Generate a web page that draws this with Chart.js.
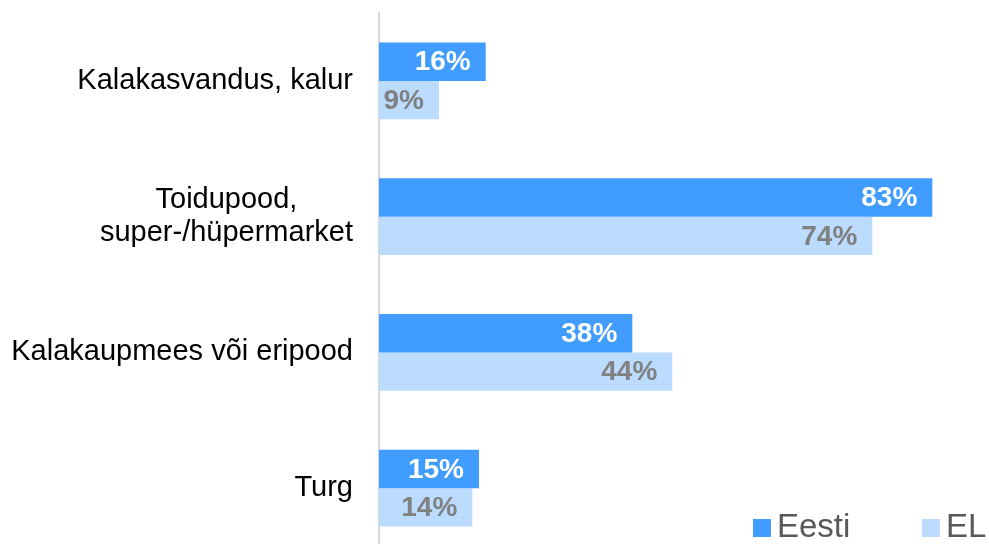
<!DOCTYPE html>
<html>
<head>
<meta charset="utf-8">
<script src="https://cdn.jsdelivr.net/npm/chart.js@4"></script>
<style>
  html, body { margin: 0; padding: 0; background: #fff; overflow: hidden; }
  #wrap { position: relative; width: 989px; height: 556px; }
  .legend { position: absolute; top: 507px; font: 33px "Liberation Sans", Arial, sans-serif; color: #595959; }
  .legend span.box { display: inline-block; width: 18px; height: 18px; margin-right: 6px; vertical-align: 0px; }
</style>
</head>
<body>
<div id="wrap">
  <canvas id="fishChart" width="989" height="556"></canvas>
  <div class="legend" style="left:753px"><span class="box" style="background:#409cff"></span>Eesti</div>
  <div class="legend" style="left:922px"><span class="box" style="background:#bcdcff"></span>EL</div>
</div>
<script>
const categories = [
    'Kalakasvandus, kalur',
    ['Toidupood,', 'super-/hüpermarket'],
    'Kalakaupmees või eripood',
    'Turg'
];
const eestiValues = [16, 83, 38, 15];
const elValues = [9, 74, 44, 14];

// labels inside the bar end + category text on the left
const labelPlugin = {
    id: 'labelPlugin',
    afterDatasetsDraw(chart) {
        const ctx = chart.ctx;
        ctx.save();
        ctx.font = 'bold 28px "Liberation Sans", Arial, sans-serif';
        ctx.textAlign = 'right';
        ctx.textBaseline = 'middle';
        chart.data.datasets.forEach((ds, i) => {
            const meta = chart.getDatasetMeta(i);
            meta.data.forEach((bar, j) => {
                ctx.fillStyle = i === 0 ? '#ffffff' : '#808080';
                ctx.fillText(ds.data[j] + '%', bar.x - 15, bar.y + 1);
            });
        });

        const yScale = chart.scales.y;
        ctx.font = '29px "Liberation Sans", Arial, sans-serif';
        ctx.fillStyle = '#000000';
        const right = 353;
        categories.forEach((lab, k) => {
            const y = yScale.getPixelForValue(k);
            if (Array.isArray(lab)) {
                const w = Math.max(...lab.map(t => ctx.measureText(t).width));
                ctx.textAlign = 'center';
                const lh = 33;
                lab.forEach((t, n) => {
                    ctx.fillText(t, right - w / 2, y + (n - (lab.length - 1) / 2) * lh);
                });
            } else {
                ctx.textAlign = 'right';
                ctx.fillText(lab, right, y);
            }
        });
        ctx.restore();
    }
};

const ctx = document.getElementById('fishChart').getContext('2d');
const fishChart = new Chart(ctx, {
    type: 'bar',
    data: {
        labels: categories,
        datasets: [{
            label: 'Eesti',
            data: eestiValues,
            backgroundColor: '#409cff',
            categoryPercentage: 0.567,
            barPercentage: 1.0
        }, {
            label: 'EL',
            data: elValues,
            backgroundColor: '#bcdcff',
            categoryPercentage: 0.567,
            barPercentage: 1.0
        }]
    },
    options: {
        indexAxis: 'y',
        responsive: false,
        animation: false,
        layout: {
            padding: { left: 371, right: 10, top: 13, bottom: 0 }
        },
        plugins: {
            legend: { display: false },
            tooltip: { enabled: false }
        },
        scales: {
            x: {
                display: false,
                min: 0,
                max: 90
            },
            y: {
                ticks: { display: false },
                grid: { display: false },
                border: { display: true, color: '#d9d9d9', width: 2 }
            }
        }
    },
    plugins: [labelPlugin]
});
</script>
</body>
</html>
